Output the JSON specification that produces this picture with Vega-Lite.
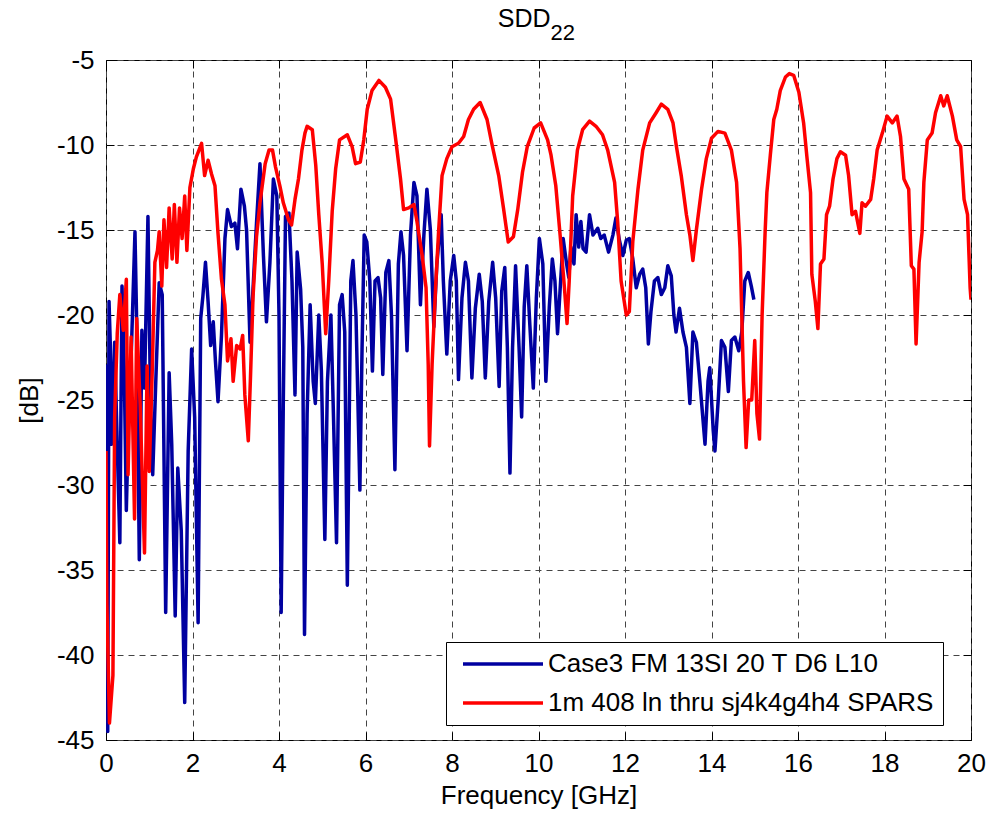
{
  "$schema": "https://vega.github.io/schema/vega-lite/v6.json",
  "width": 865,
  "height": 680,
  "autosize": {"type": "none"},
  "padding": {"left": 106, "top": 60, "right": 27, "bottom": 76},
  "background": "white",
  "config": {
    "view": {"stroke": "black", "strokeWidth": 1},
    "font": "Liberation Sans",
    "axis": {
      "labelFont": "Liberation Sans",
      "titleFont": "Liberation Sans",
      "labelFontSize": 26,
      "titleFontSize": 26,
      "titleFontWeight": "normal",
      "labelColor": "black",
      "titleColor": "black",
      "domainColor": "black",
      "tickColor": "black",
      "domain": false
    }
  },
  "data": {
    "values": [
      {"s": "Case3 FM 13SI 20 T D6 L10", "f": 0, "v": -27.6},
      {"s": "Case3 FM 13SI 20 T D6 L10", "f": 0.01, "v": -23},
      {"s": "Case3 FM 13SI 20 T D6 L10", "f": 0.04, "v": -44.5},
      {"s": "Case3 FM 13SI 20 T D6 L10", "f": 0.07, "v": -19.2},
      {"s": "Case3 FM 13SI 20 T D6 L10", "f": 0.1, "v": -21.8},
      {"s": "Case3 FM 13SI 20 T D6 L10", "f": 0.13, "v": -27.6},
      {"s": "Case3 FM 13SI 20 T D6 L10", "f": 0.2, "v": -21.6},
      {"s": "Case3 FM 13SI 20 T D6 L10", "f": 0.24, "v": -25.7},
      {"s": "Case3 FM 13SI 20 T D6 L10", "f": 0.32, "v": -33.4},
      {"s": "Case3 FM 13SI 20 T D6 L10", "f": 0.37, "v": -18.3},
      {"s": "Case3 FM 13SI 20 T D6 L10", "f": 0.42, "v": -23},
      {"s": "Case3 FM 13SI 20 T D6 L10", "f": 0.47, "v": -31.5},
      {"s": "Case3 FM 13SI 20 T D6 L10", "f": 0.53, "v": -25.3},
      {"s": "Case3 FM 13SI 20 T D6 L10", "f": 0.59, "v": -21.8},
      {"s": "Case3 FM 13SI 20 T D6 L10", "f": 0.67, "v": -15.1},
      {"s": "Case3 FM 13SI 20 T D6 L10", "f": 0.71, "v": -20.6},
      {"s": "Case3 FM 13SI 20 T D6 L10", "f": 0.77, "v": -34.4},
      {"s": "Case3 FM 13SI 20 T D6 L10", "f": 0.83, "v": -20.9},
      {"s": "Case3 FM 13SI 20 T D6 L10", "f": 0.89, "v": -24.3},
      {"s": "Case3 FM 13SI 20 T D6 L10", "f": 0.97, "v": -14.2},
      {"s": "Case3 FM 13SI 20 T D6 L10", "f": 1.03, "v": -25.3},
      {"s": "Case3 FM 13SI 20 T D6 L10", "f": 1.08, "v": -29.4},
      {"s": "Case3 FM 13SI 20 T D6 L10", "f": 1.15, "v": -24},
      {"s": "Case3 FM 13SI 20 T D6 L10", "f": 1.23, "v": -18.1},
      {"s": "Case3 FM 13SI 20 T D6 L10", "f": 1.3, "v": -18.8},
      {"s": "Case3 FM 13SI 20 T D6 L10", "f": 1.38, "v": -37.5},
      {"s": "Case3 FM 13SI 20 T D6 L10", "f": 1.46, "v": -23.4},
      {"s": "Case3 FM 13SI 20 T D6 L10", "f": 1.52, "v": -27.6},
      {"s": "Case3 FM 13SI 20 T D6 L10", "f": 1.6, "v": -37.7},
      {"s": "Case3 FM 13SI 20 T D6 L10", "f": 1.66, "v": -29},
      {"s": "Case3 FM 13SI 20 T D6 L10", "f": 1.74, "v": -32.7},
      {"s": "Case3 FM 13SI 20 T D6 L10", "f": 1.82, "v": -42.8},
      {"s": "Case3 FM 13SI 20 T D6 L10", "f": 1.9, "v": -28},
      {"s": "Case3 FM 13SI 20 T D6 L10", "f": 1.98, "v": -22},
      {"s": "Case3 FM 13SI 20 T D6 L10", "f": 2.05, "v": -26},
      {"s": "Case3 FM 13SI 20 T D6 L10", "f": 2.13, "v": -38.1},
      {"s": "Case3 FM 13SI 20 T D6 L10", "f": 2.19, "v": -20.2},
      {"s": "Case3 FM 13SI 20 T D6 L10", "f": 2.24, "v": -18.9},
      {"s": "Case3 FM 13SI 20 T D6 L10", "f": 2.3, "v": -16.9},
      {"s": "Case3 FM 13SI 20 T D6 L10", "f": 2.36, "v": -19.2},
      {"s": "Case3 FM 13SI 20 T D6 L10", "f": 2.42, "v": -21.8},
      {"s": "Case3 FM 13SI 20 T D6 L10", "f": 2.48, "v": -20.4},
      {"s": "Case3 FM 13SI 20 T D6 L10", "f": 2.53, "v": -22.7},
      {"s": "Case3 FM 13SI 20 T D6 L10", "f": 2.59, "v": -25.1},
      {"s": "Case3 FM 13SI 20 T D6 L10", "f": 2.67, "v": -21.2},
      {"s": "Case3 FM 13SI 20 T D6 L10", "f": 2.75, "v": -15.5},
      {"s": "Case3 FM 13SI 20 T D6 L10", "f": 2.81, "v": -13.8},
      {"s": "Case3 FM 13SI 20 T D6 L10", "f": 2.9, "v": -14.8},
      {"s": "Case3 FM 13SI 20 T D6 L10", "f": 2.98, "v": -14.6},
      {"s": "Case3 FM 13SI 20 T D6 L10", "f": 3.04, "v": -16.1},
      {"s": "Case3 FM 13SI 20 T D6 L10", "f": 3.12, "v": -12.6},
      {"s": "Case3 FM 13SI 20 T D6 L10", "f": 3.2, "v": -13.6},
      {"s": "Case3 FM 13SI 20 T D6 L10", "f": 3.25, "v": -15},
      {"s": "Case3 FM 13SI 20 T D6 L10", "f": 3.33, "v": -21.6},
      {"s": "Case3 FM 13SI 20 T D6 L10", "f": 3.39, "v": -18.9},
      {"s": "Case3 FM 13SI 20 T D6 L10", "f": 3.48, "v": -14.6},
      {"s": "Case3 FM 13SI 20 T D6 L10", "f": 3.56, "v": -11.1},
      {"s": "Case3 FM 13SI 20 T D6 L10", "f": 3.64, "v": -16.5},
      {"s": "Case3 FM 13SI 20 T D6 L10", "f": 3.71, "v": -20.4},
      {"s": "Case3 FM 13SI 20 T D6 L10", "f": 3.79, "v": -16.9},
      {"s": "Case3 FM 13SI 20 T D6 L10", "f": 3.87, "v": -12},
      {"s": "Case3 FM 13SI 20 T D6 L10", "f": 3.95, "v": -13},
      {"s": "Case3 FM 13SI 20 T D6 L10", "f": 4.0, "v": -20},
      {"s": "Case3 FM 13SI 20 T D6 L10", "f": 4.05, "v": -37.5},
      {"s": "Case3 FM 13SI 20 T D6 L10", "f": 4.1, "v": -25},
      {"s": "Case3 FM 13SI 20 T D6 L10", "f": 4.15, "v": -14.2},
      {"s": "Case3 FM 13SI 20 T D6 L10", "f": 4.23, "v": -14},
      {"s": "Case3 FM 13SI 20 T D6 L10", "f": 4.3, "v": -18},
      {"s": "Case3 FM 13SI 20 T D6 L10", "f": 4.37, "v": -24.7},
      {"s": "Case3 FM 13SI 20 T D6 L10", "f": 4.42, "v": -16.3},
      {"s": "Case3 FM 13SI 20 T D6 L10", "f": 4.5, "v": -18.5},
      {"s": "Case3 FM 13SI 20 T D6 L10", "f": 4.55, "v": -21.9},
      {"s": "Case3 FM 13SI 20 T D6 L10", "f": 4.59, "v": -38.8},
      {"s": "Case3 FM 13SI 20 T D6 L10", "f": 4.65, "v": -25.8},
      {"s": "Case3 FM 13SI 20 T D6 L10", "f": 4.72, "v": -19.4},
      {"s": "Case3 FM 13SI 20 T D6 L10", "f": 4.79, "v": -23.9},
      {"s": "Case3 FM 13SI 20 T D6 L10", "f": 4.84, "v": -25.2},
      {"s": "Case3 FM 13SI 20 T D6 L10", "f": 4.92, "v": -20},
      {"s": "Case3 FM 13SI 20 T D6 L10", "f": 4.98, "v": -23.3},
      {"s": "Case3 FM 13SI 20 T D6 L10", "f": 5.06, "v": -33.2},
      {"s": "Case3 FM 13SI 20 T D6 L10", "f": 5.12, "v": -23.9},
      {"s": "Case3 FM 13SI 20 T D6 L10", "f": 5.2, "v": -20},
      {"s": "Case3 FM 13SI 20 T D6 L10", "f": 5.26, "v": -26},
      {"s": "Case3 FM 13SI 20 T D6 L10", "f": 5.33, "v": -33.4},
      {"s": "Case3 FM 13SI 20 T D6 L10", "f": 5.4, "v": -19.4},
      {"s": "Case3 FM 13SI 20 T D6 L10", "f": 5.46, "v": -18.8},
      {"s": "Case3 FM 13SI 20 T D6 L10", "f": 5.52, "v": -21},
      {"s": "Case3 FM 13SI 20 T D6 L10", "f": 5.58, "v": -35.9},
      {"s": "Case3 FM 13SI 20 T D6 L10", "f": 5.66, "v": -18},
      {"s": "Case3 FM 13SI 20 T D6 L10", "f": 5.71, "v": -16.8},
      {"s": "Case3 FM 13SI 20 T D6 L10", "f": 5.78, "v": -20},
      {"s": "Case3 FM 13SI 20 T D6 L10", "f": 5.87, "v": -30.3},
      {"s": "Case3 FM 13SI 20 T D6 L10", "f": 5.92, "v": -22},
      {"s": "Case3 FM 13SI 20 T D6 L10", "f": 5.97, "v": -15.3},
      {"s": "Case3 FM 13SI 20 T D6 L10", "f": 6.03, "v": -15.7},
      {"s": "Case3 FM 13SI 20 T D6 L10", "f": 6.1, "v": -18},
      {"s": "Case3 FM 13SI 20 T D6 L10", "f": 6.16, "v": -23.3},
      {"s": "Case3 FM 13SI 20 T D6 L10", "f": 6.22, "v": -18},
      {"s": "Case3 FM 13SI 20 T D6 L10", "f": 6.29, "v": -17.8},
      {"s": "Case3 FM 13SI 20 T D6 L10", "f": 6.35, "v": -19},
      {"s": "Case3 FM 13SI 20 T D6 L10", "f": 6.4, "v": -23.5},
      {"s": "Case3 FM 13SI 20 T D6 L10", "f": 6.47, "v": -17.5},
      {"s": "Case3 FM 13SI 20 T D6 L10", "f": 6.54, "v": -16.8},
      {"s": "Case3 FM 13SI 20 T D6 L10", "f": 6.6, "v": -20},
      {"s": "Case3 FM 13SI 20 T D6 L10", "f": 6.68, "v": -29.1},
      {"s": "Case3 FM 13SI 20 T D6 L10", "f": 6.76, "v": -17},
      {"s": "Case3 FM 13SI 20 T D6 L10", "f": 6.82, "v": -15.1},
      {"s": "Case3 FM 13SI 20 T D6 L10", "f": 6.88, "v": -16.5},
      {"s": "Case3 FM 13SI 20 T D6 L10", "f": 6.96, "v": -22.1},
      {"s": "Case3 FM 13SI 20 T D6 L10", "f": 7.04, "v": -15.3},
      {"s": "Case3 FM 13SI 20 T D6 L10", "f": 7.12, "v": -12.2},
      {"s": "Case3 FM 13SI 20 T D6 L10", "f": 7.19, "v": -13},
      {"s": "Case3 FM 13SI 20 T D6 L10", "f": 7.27, "v": -19.4},
      {"s": "Case3 FM 13SI 20 T D6 L10", "f": 7.35, "v": -15.3},
      {"s": "Case3 FM 13SI 20 T D6 L10", "f": 7.42, "v": -12.6},
      {"s": "Case3 FM 13SI 20 T D6 L10", "f": 7.5, "v": -15},
      {"s": "Case3 FM 13SI 20 T D6 L10", "f": 7.58, "v": -20.7},
      {"s": "Case3 FM 13SI 20 T D6 L10", "f": 7.65, "v": -17},
      {"s": "Case3 FM 13SI 20 T D6 L10", "f": 7.75, "v": -14.1},
      {"s": "Case3 FM 13SI 20 T D6 L10", "f": 7.8, "v": -18},
      {"s": "Case3 FM 13SI 20 T D6 L10", "f": 7.88, "v": -22.3},
      {"s": "Case3 FM 13SI 20 T D6 L10", "f": 7.96, "v": -18},
      {"s": "Case3 FM 13SI 20 T D6 L10", "f": 8.04, "v": -16.5},
      {"s": "Case3 FM 13SI 20 T D6 L10", "f": 8.1, "v": -18},
      {"s": "Case3 FM 13SI 20 T D6 L10", "f": 8.15, "v": -23.8},
      {"s": "Case3 FM 13SI 20 T D6 L10", "f": 8.23, "v": -19},
      {"s": "Case3 FM 13SI 20 T D6 L10", "f": 8.31, "v": -16.9},
      {"s": "Case3 FM 13SI 20 T D6 L10", "f": 8.38, "v": -18},
      {"s": "Case3 FM 13SI 20 T D6 L10", "f": 8.46, "v": -23.7},
      {"s": "Case3 FM 13SI 20 T D6 L10", "f": 8.54, "v": -19.6},
      {"s": "Case3 FM 13SI 20 T D6 L10", "f": 8.63, "v": -17.6},
      {"s": "Case3 FM 13SI 20 T D6 L10", "f": 8.7, "v": -19.2},
      {"s": "Case3 FM 13SI 20 T D6 L10", "f": 8.77, "v": -23.7},
      {"s": "Case3 FM 13SI 20 T D6 L10", "f": 8.85, "v": -19.2},
      {"s": "Case3 FM 13SI 20 T D6 L10", "f": 8.94, "v": -16.9},
      {"s": "Case3 FM 13SI 20 T D6 L10", "f": 9.01, "v": -19},
      {"s": "Case3 FM 13SI 20 T D6 L10", "f": 9.09, "v": -24.2},
      {"s": "Case3 FM 13SI 20 T D6 L10", "f": 9.15, "v": -18.6},
      {"s": "Case3 FM 13SI 20 T D6 L10", "f": 9.22, "v": -17.2},
      {"s": "Case3 FM 13SI 20 T D6 L10", "f": 9.28, "v": -21.9},
      {"s": "Case3 FM 13SI 20 T D6 L10", "f": 9.34, "v": -29.3},
      {"s": "Case3 FM 13SI 20 T D6 L10", "f": 9.4, "v": -21.9},
      {"s": "Case3 FM 13SI 20 T D6 L10", "f": 9.47, "v": -17.1},
      {"s": "Case3 FM 13SI 20 T D6 L10", "f": 9.55, "v": -21.9},
      {"s": "Case3 FM 13SI 20 T D6 L10", "f": 9.61, "v": -26},
      {"s": "Case3 FM 13SI 20 T D6 L10", "f": 9.67, "v": -19.5},
      {"s": "Case3 FM 13SI 20 T D6 L10", "f": 9.73, "v": -17.1},
      {"s": "Case3 FM 13SI 20 T D6 L10", "f": 9.8, "v": -20.6},
      {"s": "Case3 FM 13SI 20 T D6 L10", "f": 9.88, "v": -24.3},
      {"s": "Case3 FM 13SI 20 T D6 L10", "f": 9.95, "v": -19},
      {"s": "Case3 FM 13SI 20 T D6 L10", "f": 10.02, "v": -15.5},
      {"s": "Case3 FM 13SI 20 T D6 L10", "f": 10.1, "v": -17},
      {"s": "Case3 FM 13SI 20 T D6 L10", "f": 10.17, "v": -23.9},
      {"s": "Case3 FM 13SI 20 T D6 L10", "f": 10.25, "v": -19.5},
      {"s": "Case3 FM 13SI 20 T D6 L10", "f": 10.32, "v": -16.7},
      {"s": "Case3 FM 13SI 20 T D6 L10", "f": 10.38, "v": -18},
      {"s": "Case3 FM 13SI 20 T D6 L10", "f": 10.44, "v": -21.1},
      {"s": "Case3 FM 13SI 20 T D6 L10", "f": 10.5, "v": -18.5},
      {"s": "Case3 FM 13SI 20 T D6 L10", "f": 10.57, "v": -15.5},
      {"s": "Case3 FM 13SI 20 T D6 L10", "f": 10.65, "v": -17},
      {"s": "Case3 FM 13SI 20 T D6 L10", "f": 10.7, "v": -17.8},
      {"s": "Case3 FM 13SI 20 T D6 L10", "f": 10.75, "v": -16},
      {"s": "Case3 FM 13SI 20 T D6 L10", "f": 10.82, "v": -17},
      {"s": "Case3 FM 13SI 20 T D6 L10", "f": 10.87, "v": -14.1},
      {"s": "Case3 FM 13SI 20 T D6 L10", "f": 10.93, "v": -16},
      {"s": "Case3 FM 13SI 20 T D6 L10", "f": 10.98, "v": -14.5},
      {"s": "Case3 FM 13SI 20 T D6 L10", "f": 11.03, "v": -16.1},
      {"s": "Case3 FM 13SI 20 T D6 L10", "f": 11.1, "v": -16.3},
      {"s": "Case3 FM 13SI 20 T D6 L10", "f": 11.18, "v": -14.1},
      {"s": "Case3 FM 13SI 20 T D6 L10", "f": 11.26, "v": -15.3},
      {"s": "Case3 FM 13SI 20 T D6 L10", "f": 11.37, "v": -14.9},
      {"s": "Case3 FM 13SI 20 T D6 L10", "f": 11.44, "v": -15.5},
      {"s": "Case3 FM 13SI 20 T D6 L10", "f": 11.52, "v": -15.3},
      {"s": "Case3 FM 13SI 20 T D6 L10", "f": 11.62, "v": -16.3},
      {"s": "Case3 FM 13SI 20 T D6 L10", "f": 11.72, "v": -15.3},
      {"s": "Case3 FM 13SI 20 T D6 L10", "f": 11.79, "v": -14.3},
      {"s": "Case3 FM 13SI 20 T D6 L10", "f": 11.87, "v": -15.6},
      {"s": "Case3 FM 13SI 20 T D6 L10", "f": 11.95, "v": -16.5},
      {"s": "Case3 FM 13SI 20 T D6 L10", "f": 12.03, "v": -15.6},
      {"s": "Case3 FM 13SI 20 T D6 L10", "f": 12.1, "v": -15.5},
      {"s": "Case3 FM 13SI 20 T D6 L10", "f": 12.18, "v": -16.7},
      {"s": "Case3 FM 13SI 20 T D6 L10", "f": 12.26, "v": -18.4},
      {"s": "Case3 FM 13SI 20 T D6 L10", "f": 12.34, "v": -17.6},
      {"s": "Case3 FM 13SI 20 T D6 L10", "f": 12.41, "v": -17.3},
      {"s": "Case3 FM 13SI 20 T D6 L10", "f": 12.48, "v": -18.4},
      {"s": "Case3 FM 13SI 20 T D6 L10", "f": 12.54, "v": -21.7},
      {"s": "Case3 FM 13SI 20 T D6 L10", "f": 12.6, "v": -19.8},
      {"s": "Case3 FM 13SI 20 T D6 L10", "f": 12.68, "v": -18},
      {"s": "Case3 FM 13SI 20 T D6 L10", "f": 12.76, "v": -17.8},
      {"s": "Case3 FM 13SI 20 T D6 L10", "f": 12.84, "v": -18.8},
      {"s": "Case3 FM 13SI 20 T D6 L10", "f": 12.92, "v": -18.4},
      {"s": "Case3 FM 13SI 20 T D6 L10", "f": 12.99, "v": -17.1},
      {"s": "Case3 FM 13SI 20 T D6 L10", "f": 13.07, "v": -17.7},
      {"s": "Case3 FM 13SI 20 T D6 L10", "f": 13.13, "v": -20},
      {"s": "Case3 FM 13SI 20 T D6 L10", "f": 13.18, "v": -21},
      {"s": "Case3 FM 13SI 20 T D6 L10", "f": 13.26, "v": -19.6},
      {"s": "Case3 FM 13SI 20 T D6 L10", "f": 13.34, "v": -21},
      {"s": "Case3 FM 13SI 20 T D6 L10", "f": 13.42, "v": -21.9},
      {"s": "Case3 FM 13SI 20 T D6 L10", "f": 13.5, "v": -25.2},
      {"s": "Case3 FM 13SI 20 T D6 L10", "f": 13.57, "v": -21},
      {"s": "Case3 FM 13SI 20 T D6 L10", "f": 13.65, "v": -21.6},
      {"s": "Case3 FM 13SI 20 T D6 L10", "f": 13.73, "v": -23.9},
      {"s": "Case3 FM 13SI 20 T D6 L10", "f": 13.85, "v": -27.6},
      {"s": "Case3 FM 13SI 20 T D6 L10", "f": 13.92, "v": -23.9},
      {"s": "Case3 FM 13SI 20 T D6 L10", "f": 13.96, "v": -23.1},
      {"s": "Case3 FM 13SI 20 T D6 L10", "f": 14.04, "v": -26.8},
      {"s": "Case3 FM 13SI 20 T D6 L10", "f": 14.08, "v": -28},
      {"s": "Case3 FM 13SI 20 T D6 L10", "f": 14.16, "v": -24.8},
      {"s": "Case3 FM 13SI 20 T D6 L10", "f": 14.23, "v": -21.5},
      {"s": "Case3 FM 13SI 20 T D6 L10", "f": 14.31, "v": -21.9},
      {"s": "Case3 FM 13SI 20 T D6 L10", "f": 14.39, "v": -24.5},
      {"s": "Case3 FM 13SI 20 T D6 L10", "f": 14.46, "v": -21.5},
      {"s": "Case3 FM 13SI 20 T D6 L10", "f": 14.54, "v": -21.3},
      {"s": "Case3 FM 13SI 20 T D6 L10", "f": 14.63, "v": -22.1},
      {"s": "Case3 FM 13SI 20 T D6 L10", "f": 14.7, "v": -21},
      {"s": "Case3 FM 13SI 20 T D6 L10", "f": 14.77, "v": -18},
      {"s": "Case3 FM 13SI 20 T D6 L10", "f": 14.85, "v": -17.5},
      {"s": "Case3 FM 13SI 20 T D6 L10", "f": 14.92, "v": -18.3},
      {"s": "Case3 FM 13SI 20 T D6 L10", "f": 14.98, "v": -19.1},
      {"s": "1m 408 ln thru sj4k4g4h4 SPARS", "f": 0, "v": -28},
      {"s": "1m 408 ln thru sj4k4g4h4 SPARS", "f": 0.02, "v": -37},
      {"s": "1m 408 ln thru sj4k4g4h4 SPARS", "f": 0.08, "v": -44},
      {"s": "1m 408 ln thru sj4k4g4h4 SPARS", "f": 0.16, "v": -41.2},
      {"s": "1m 408 ln thru sj4k4g4h4 SPARS", "f": 0.2, "v": -26},
      {"s": "1m 408 ln thru sj4k4g4h4 SPARS", "f": 0.26, "v": -21.1},
      {"s": "1m 408 ln thru sj4k4g4h4 SPARS", "f": 0.32, "v": -18.8},
      {"s": "1m 408 ln thru sj4k4g4h4 SPARS", "f": 0.4, "v": -20.9},
      {"s": "1m 408 ln thru sj4k4g4h4 SPARS", "f": 0.47, "v": -17.9},
      {"s": "1m 408 ln thru sj4k4g4h4 SPARS", "f": 0.51, "v": -29.4},
      {"s": "1m 408 ln thru sj4k4g4h4 SPARS", "f": 0.58, "v": -21.3},
      {"s": "1m 408 ln thru sj4k4g4h4 SPARS", "f": 0.66, "v": -32},
      {"s": "1m 408 ln thru sj4k4g4h4 SPARS", "f": 0.71, "v": -20.2},
      {"s": "1m 408 ln thru sj4k4g4h4 SPARS", "f": 0.79, "v": -25.3},
      {"s": "1m 408 ln thru sj4k4g4h4 SPARS", "f": 0.89, "v": -34},
      {"s": "1m 408 ln thru sj4k4g4h4 SPARS", "f": 0.95, "v": -23},
      {"s": "1m 408 ln thru sj4k4g4h4 SPARS", "f": 1.0, "v": -29.2},
      {"s": "1m 408 ln thru sj4k4g4h4 SPARS", "f": 1.07, "v": -23.2},
      {"s": "1m 408 ln thru sj4k4g4h4 SPARS", "f": 1.13, "v": -16.9},
      {"s": "1m 408 ln thru sj4k4g4h4 SPARS", "f": 1.19, "v": -16.2},
      {"s": "1m 408 ln thru sj4k4g4h4 SPARS", "f": 1.23, "v": -15.1},
      {"s": "1m 408 ln thru sj4k4g4h4 SPARS", "f": 1.29, "v": -18.3},
      {"s": "1m 408 ln thru sj4k4g4h4 SPARS", "f": 1.34, "v": -14.4},
      {"s": "1m 408 ln thru sj4k4g4h4 SPARS", "f": 1.4, "v": -17.2},
      {"s": "1m 408 ln thru sj4k4g4h4 SPARS", "f": 1.46, "v": -13.7},
      {"s": "1m 408 ln thru sj4k4g4h4 SPARS", "f": 1.53, "v": -16.7},
      {"s": "1m 408 ln thru sj4k4g4h4 SPARS", "f": 1.58, "v": -13.5},
      {"s": "1m 408 ln thru sj4k4g4h4 SPARS", "f": 1.64, "v": -16.9},
      {"s": "1m 408 ln thru sj4k4g4h4 SPARS", "f": 1.7, "v": -13.7},
      {"s": "1m 408 ln thru sj4k4g4h4 SPARS", "f": 1.76, "v": -15.5},
      {"s": "1m 408 ln thru sj4k4g4h4 SPARS", "f": 1.82, "v": -13},
      {"s": "1m 408 ln thru sj4k4g4h4 SPARS", "f": 1.87, "v": -16.2},
      {"s": "1m 408 ln thru sj4k4g4h4 SPARS", "f": 1.94, "v": -12.5},
      {"s": "1m 408 ln thru sj4k4g4h4 SPARS", "f": 2.02, "v": -11.4},
      {"s": "1m 408 ln thru sj4k4g4h4 SPARS", "f": 2.09, "v": -10.7},
      {"s": "1m 408 ln thru sj4k4g4h4 SPARS", "f": 2.15, "v": -10.3},
      {"s": "1m 408 ln thru sj4k4g4h4 SPARS", "f": 2.21, "v": -9.9},
      {"s": "1m 408 ln thru sj4k4g4h4 SPARS", "f": 2.28, "v": -11.8},
      {"s": "1m 408 ln thru sj4k4g4h4 SPARS", "f": 2.36, "v": -10.9},
      {"s": "1m 408 ln thru sj4k4g4h4 SPARS", "f": 2.44, "v": -11.7},
      {"s": "1m 408 ln thru sj4k4g4h4 SPARS", "f": 2.52, "v": -12.4},
      {"s": "1m 408 ln thru sj4k4g4h4 SPARS", "f": 2.59, "v": -15.2},
      {"s": "1m 408 ln thru sj4k4g4h4 SPARS", "f": 2.67, "v": -17.9},
      {"s": "1m 408 ln thru sj4k4g4h4 SPARS", "f": 2.75, "v": -19.4},
      {"s": "1m 408 ln thru sj4k4g4h4 SPARS", "f": 2.81, "v": -22.7},
      {"s": "1m 408 ln thru sj4k4g4h4 SPARS", "f": 2.89, "v": -21.4},
      {"s": "1m 408 ln thru sj4k4g4h4 SPARS", "f": 2.94, "v": -23.9},
      {"s": "1m 408 ln thru sj4k4g4h4 SPARS", "f": 3.02, "v": -21.8},
      {"s": "1m 408 ln thru sj4k4g4h4 SPARS", "f": 3.1, "v": -22},
      {"s": "1m 408 ln thru sj4k4g4h4 SPARS", "f": 3.16, "v": -21.2},
      {"s": "1m 408 ln thru sj4k4g4h4 SPARS", "f": 3.21, "v": -24.7},
      {"s": "1m 408 ln thru sj4k4g4h4 SPARS", "f": 3.29, "v": -27.4},
      {"s": "1m 408 ln thru sj4k4g4h4 SPARS", "f": 3.34, "v": -23.7},
      {"s": "1m 408 ln thru sj4k4g4h4 SPARS", "f": 3.4, "v": -18.9},
      {"s": "1m 408 ln thru sj4k4g4h4 SPARS", "f": 3.48, "v": -15.4},
      {"s": "1m 408 ln thru sj4k4g4h4 SPARS", "f": 3.56, "v": -13.4},
      {"s": "1m 408 ln thru sj4k4g4h4 SPARS", "f": 3.68, "v": -11.1},
      {"s": "1m 408 ln thru sj4k4g4h4 SPARS", "f": 3.77, "v": -10.3},
      {"s": "1m 408 ln thru sj4k4g4h4 SPARS", "f": 3.85, "v": -10.3},
      {"s": "1m 408 ln thru sj4k4g4h4 SPARS", "f": 3.92, "v": -11.3},
      {"s": "1m 408 ln thru sj4k4g4h4 SPARS", "f": 4.02, "v": -12.4},
      {"s": "1m 408 ln thru sj4k4g4h4 SPARS", "f": 4.1, "v": -13.4},
      {"s": "1m 408 ln thru sj4k4g4h4 SPARS", "f": 4.22, "v": -14.4},
      {"s": "1m 408 ln thru sj4k4g4h4 SPARS", "f": 4.29, "v": -14.7},
      {"s": "1m 408 ln thru sj4k4g4h4 SPARS", "f": 4.37, "v": -13.2},
      {"s": "1m 408 ln thru sj4k4g4h4 SPARS", "f": 4.45, "v": -12},
      {"s": "1m 408 ln thru sj4k4g4h4 SPARS", "f": 4.53, "v": -10.3},
      {"s": "1m 408 ln thru sj4k4g4h4 SPARS", "f": 4.6, "v": -9.3},
      {"s": "1m 408 ln thru sj4k4g4h4 SPARS", "f": 4.65, "v": -8.9},
      {"s": "1m 408 ln thru sj4k4g4h4 SPARS", "f": 4.77, "v": -9.1},
      {"s": "1m 408 ln thru sj4k4g4h4 SPARS", "f": 4.85, "v": -11.2},
      {"s": "1m 408 ln thru sj4k4g4h4 SPARS", "f": 4.92, "v": -14.1},
      {"s": "1m 408 ln thru sj4k4g4h4 SPARS", "f": 5.0, "v": -17},
      {"s": "1m 408 ln thru sj4k4g4h4 SPARS", "f": 5.08, "v": -21.1},
      {"s": "1m 408 ln thru sj4k4g4h4 SPARS", "f": 5.15, "v": -18},
      {"s": "1m 408 ln thru sj4k4g4h4 SPARS", "f": 5.23, "v": -13.9},
      {"s": "1m 408 ln thru sj4k4g4h4 SPARS", "f": 5.31, "v": -11.4},
      {"s": "1m 408 ln thru sj4k4g4h4 SPARS", "f": 5.4, "v": -9.7},
      {"s": "1m 408 ln thru sj4k4g4h4 SPARS", "f": 5.58, "v": -9.4},
      {"s": "1m 408 ln thru sj4k4g4h4 SPARS", "f": 5.69, "v": -10.1},
      {"s": "1m 408 ln thru sj4k4g4h4 SPARS", "f": 5.77, "v": -11.1},
      {"s": "1m 408 ln thru sj4k4g4h4 SPARS", "f": 5.88, "v": -11},
      {"s": "1m 408 ln thru sj4k4g4h4 SPARS", "f": 5.96, "v": -9.7},
      {"s": "1m 408 ln thru sj4k4g4h4 SPARS", "f": 6.04, "v": -7.9},
      {"s": "1m 408 ln thru sj4k4g4h4 SPARS", "f": 6.15, "v": -6.8},
      {"s": "1m 408 ln thru sj4k4g4h4 SPARS", "f": 6.31, "v": -6.2},
      {"s": "1m 408 ln thru sj4k4g4h4 SPARS", "f": 6.46, "v": -6.6},
      {"s": "1m 408 ln thru sj4k4g4h4 SPARS", "f": 6.58, "v": -7.3},
      {"s": "1m 408 ln thru sj4k4g4h4 SPARS", "f": 6.69, "v": -9.5},
      {"s": "1m 408 ln thru sj4k4g4h4 SPARS", "f": 6.81, "v": -12},
      {"s": "1m 408 ln thru sj4k4g4h4 SPARS", "f": 6.88, "v": -13.8},
      {"s": "1m 408 ln thru sj4k4g4h4 SPARS", "f": 7.0, "v": -13.7},
      {"s": "1m 408 ln thru sj4k4g4h4 SPARS", "f": 7.12, "v": -13.5},
      {"s": "1m 408 ln thru sj4k4g4h4 SPARS", "f": 7.19, "v": -14.5},
      {"s": "1m 408 ln thru sj4k4g4h4 SPARS", "f": 7.31, "v": -16.5},
      {"s": "1m 408 ln thru sj4k4g4h4 SPARS", "f": 7.4, "v": -18.4},
      {"s": "1m 408 ln thru sj4k4g4h4 SPARS", "f": 7.45, "v": -22.9},
      {"s": "1m 408 ln thru sj4k4g4h4 SPARS", "f": 7.48, "v": -27.7},
      {"s": "1m 408 ln thru sj4k4g4h4 SPARS", "f": 7.54, "v": -22.9},
      {"s": "1m 408 ln thru sj4k4g4h4 SPARS", "f": 7.62, "v": -18.4},
      {"s": "1m 408 ln thru sj4k4g4h4 SPARS", "f": 7.69, "v": -15.1},
      {"s": "1m 408 ln thru sj4k4g4h4 SPARS", "f": 7.77, "v": -11.8},
      {"s": "1m 408 ln thru sj4k4g4h4 SPARS", "f": 7.88, "v": -10.8},
      {"s": "1m 408 ln thru sj4k4g4h4 SPARS", "f": 8.0, "v": -10.1},
      {"s": "1m 408 ln thru sj4k4g4h4 SPARS", "f": 8.15, "v": -9.9},
      {"s": "1m 408 ln thru sj4k4g4h4 SPARS", "f": 8.27, "v": -9.5},
      {"s": "1m 408 ln thru sj4k4g4h4 SPARS", "f": 8.38, "v": -8.5},
      {"s": "1m 408 ln thru sj4k4g4h4 SPARS", "f": 8.5, "v": -7.9},
      {"s": "1m 408 ln thru sj4k4g4h4 SPARS", "f": 8.65, "v": -7.5},
      {"s": "1m 408 ln thru sj4k4g4h4 SPARS", "f": 8.81, "v": -8.5},
      {"s": "1m 408 ln thru sj4k4g4h4 SPARS", "f": 8.92, "v": -9.9},
      {"s": "1m 408 ln thru sj4k4g4h4 SPARS", "f": 9.08, "v": -11.8},
      {"s": "1m 408 ln thru sj4k4g4h4 SPARS", "f": 9.19, "v": -13.7},
      {"s": "1m 408 ln thru sj4k4g4h4 SPARS", "f": 9.3, "v": -15.7},
      {"s": "1m 408 ln thru sj4k4g4h4 SPARS", "f": 9.42, "v": -15.4},
      {"s": "1m 408 ln thru sj4k4g4h4 SPARS", "f": 9.52, "v": -13.8},
      {"s": "1m 408 ln thru sj4k4g4h4 SPARS", "f": 9.63, "v": -11.6},
      {"s": "1m 408 ln thru sj4k4g4h4 SPARS", "f": 9.74, "v": -10.1},
      {"s": "1m 408 ln thru sj4k4g4h4 SPARS", "f": 9.9, "v": -9},
      {"s": "1m 408 ln thru sj4k4g4h4 SPARS", "f": 10.05, "v": -8.7},
      {"s": "1m 408 ln thru sj4k4g4h4 SPARS", "f": 10.21, "v": -9.7},
      {"s": "1m 408 ln thru sj4k4g4h4 SPARS", "f": 10.29, "v": -10.6},
      {"s": "1m 408 ln thru sj4k4g4h4 SPARS", "f": 10.4, "v": -12.4},
      {"s": "1m 408 ln thru sj4k4g4h4 SPARS", "f": 10.5, "v": -15.3},
      {"s": "1m 408 ln thru sj4k4g4h4 SPARS", "f": 10.6, "v": -18.4},
      {"s": "1m 408 ln thru sj4k4g4h4 SPARS", "f": 10.66, "v": -20.5},
      {"s": "1m 408 ln thru sj4k4g4h4 SPARS", "f": 10.71, "v": -18},
      {"s": "1m 408 ln thru sj4k4g4h4 SPARS", "f": 10.79, "v": -13},
      {"s": "1m 408 ln thru sj4k4g4h4 SPARS", "f": 10.9, "v": -10.3},
      {"s": "1m 408 ln thru sj4k4g4h4 SPARS", "f": 11.02, "v": -9.1},
      {"s": "1m 408 ln thru sj4k4g4h4 SPARS", "f": 11.18, "v": -8.6},
      {"s": "1m 408 ln thru sj4k4g4h4 SPARS", "f": 11.33, "v": -8.9},
      {"s": "1m 408 ln thru sj4k4g4h4 SPARS", "f": 11.48, "v": -9.4},
      {"s": "1m 408 ln thru sj4k4g4h4 SPARS", "f": 11.6, "v": -10.3},
      {"s": "1m 408 ln thru sj4k4g4h4 SPARS", "f": 11.76, "v": -12.2},
      {"s": "1m 408 ln thru sj4k4g4h4 SPARS", "f": 11.83, "v": -14.5},
      {"s": "1m 408 ln thru sj4k4g4h4 SPARS", "f": 11.91, "v": -18},
      {"s": "1m 408 ln thru sj4k4g4h4 SPARS", "f": 12.03, "v": -20},
      {"s": "1m 408 ln thru sj4k4g4h4 SPARS", "f": 12.1, "v": -19.8},
      {"s": "1m 408 ln thru sj4k4g4h4 SPARS", "f": 12.18, "v": -15.7},
      {"s": "1m 408 ln thru sj4k4g4h4 SPARS", "f": 12.3, "v": -12.6},
      {"s": "1m 408 ln thru sj4k4g4h4 SPARS", "f": 12.41, "v": -10.3},
      {"s": "1m 408 ln thru sj4k4g4h4 SPARS", "f": 12.57, "v": -8.7},
      {"s": "1m 408 ln thru sj4k4g4h4 SPARS", "f": 12.72, "v": -8.1},
      {"s": "1m 408 ln thru sj4k4g4h4 SPARS", "f": 12.84, "v": -7.6},
      {"s": "1m 408 ln thru sj4k4g4h4 SPARS", "f": 12.99, "v": -7.9},
      {"s": "1m 408 ln thru sj4k4g4h4 SPARS", "f": 13.11, "v": -8.7},
      {"s": "1m 408 ln thru sj4k4g4h4 SPARS", "f": 13.19, "v": -10.1},
      {"s": "1m 408 ln thru sj4k4g4h4 SPARS", "f": 13.3, "v": -11.8},
      {"s": "1m 408 ln thru sj4k4g4h4 SPARS", "f": 13.42, "v": -14.1},
      {"s": "1m 408 ln thru sj4k4g4h4 SPARS", "f": 13.5, "v": -15.3},
      {"s": "1m 408 ln thru sj4k4g4h4 SPARS", "f": 13.57, "v": -16.8},
      {"s": "1m 408 ln thru sj4k4g4h4 SPARS", "f": 13.65, "v": -15},
      {"s": "1m 408 ln thru sj4k4g4h4 SPARS", "f": 13.77, "v": -12.6},
      {"s": "1m 408 ln thru sj4k4g4h4 SPARS", "f": 13.88, "v": -10.8},
      {"s": "1m 408 ln thru sj4k4g4h4 SPARS", "f": 14.0, "v": -9.6},
      {"s": "1m 408 ln thru sj4k4g4h4 SPARS", "f": 14.15, "v": -9.2},
      {"s": "1m 408 ln thru sj4k4g4h4 SPARS", "f": 14.31, "v": -9.3},
      {"s": "1m 408 ln thru sj4k4g4h4 SPARS", "f": 14.46, "v": -10.3},
      {"s": "1m 408 ln thru sj4k4g4h4 SPARS", "f": 14.58, "v": -12.2},
      {"s": "1m 408 ln thru sj4k4g4h4 SPARS", "f": 14.66, "v": -16.1},
      {"s": "1m 408 ln thru sj4k4g4h4 SPARS", "f": 14.74, "v": -23.9},
      {"s": "1m 408 ln thru sj4k4g4h4 SPARS", "f": 14.8, "v": -27.8},
      {"s": "1m 408 ln thru sj4k4g4h4 SPARS", "f": 14.86, "v": -25},
      {"s": "1m 408 ln thru sj4k4g4h4 SPARS", "f": 14.93, "v": -25},
      {"s": "1m 408 ln thru sj4k4g4h4 SPARS", "f": 15.0, "v": -21.5},
      {"s": "1m 408 ln thru sj4k4g4h4 SPARS", "f": 15.05, "v": -25.8},
      {"s": "1m 408 ln thru sj4k4g4h4 SPARS", "f": 15.11, "v": -27.3},
      {"s": "1m 408 ln thru sj4k4g4h4 SPARS", "f": 15.17, "v": -20},
      {"s": "1m 408 ln thru sj4k4g4h4 SPARS", "f": 15.24, "v": -15.1},
      {"s": "1m 408 ln thru sj4k4g4h4 SPARS", "f": 15.28, "v": -12.8},
      {"s": "1m 408 ln thru sj4k4g4h4 SPARS", "f": 15.36, "v": -10.6},
      {"s": "1m 408 ln thru sj4k4g4h4 SPARS", "f": 15.44, "v": -8.5},
      {"s": "1m 408 ln thru sj4k4g4h4 SPARS", "f": 15.51, "v": -7.9},
      {"s": "1m 408 ln thru sj4k4g4h4 SPARS", "f": 15.59, "v": -6.8},
      {"s": "1m 408 ln thru sj4k4g4h4 SPARS", "f": 15.71, "v": -6},
      {"s": "1m 408 ln thru sj4k4g4h4 SPARS", "f": 15.8, "v": -5.8},
      {"s": "1m 408 ln thru sj4k4g4h4 SPARS", "f": 15.9, "v": -5.9},
      {"s": "1m 408 ln thru sj4k4g4h4 SPARS", "f": 16.02, "v": -6.9},
      {"s": "1m 408 ln thru sj4k4g4h4 SPARS", "f": 16.13, "v": -8.7},
      {"s": "1m 408 ln thru sj4k4g4h4 SPARS", "f": 16.21, "v": -10.8},
      {"s": "1m 408 ln thru sj4k4g4h4 SPARS", "f": 16.29, "v": -12.8},
      {"s": "1m 408 ln thru sj4k4g4h4 SPARS", "f": 16.32, "v": -17.6},
      {"s": "1m 408 ln thru sj4k4g4h4 SPARS", "f": 16.4, "v": -19.2},
      {"s": "1m 408 ln thru sj4k4g4h4 SPARS", "f": 16.46, "v": -20.8},
      {"s": "1m 408 ln thru sj4k4g4h4 SPARS", "f": 16.52, "v": -17},
      {"s": "1m 408 ln thru sj4k4g4h4 SPARS", "f": 16.6, "v": -16.7},
      {"s": "1m 408 ln thru sj4k4g4h4 SPARS", "f": 16.66, "v": -14.1},
      {"s": "1m 408 ln thru sj4k4g4h4 SPARS", "f": 16.73, "v": -13.6},
      {"s": "1m 408 ln thru sj4k4g4h4 SPARS", "f": 16.81, "v": -12},
      {"s": "1m 408 ln thru sj4k4g4h4 SPARS", "f": 16.9, "v": -10.8},
      {"s": "1m 408 ln thru sj4k4g4h4 SPARS", "f": 16.98, "v": -10.4},
      {"s": "1m 408 ln thru sj4k4g4h4 SPARS", "f": 17.1, "v": -10.6},
      {"s": "1m 408 ln thru sj4k4g4h4 SPARS", "f": 17.17, "v": -11.8},
      {"s": "1m 408 ln thru sj4k4g4h4 SPARS", "f": 17.25, "v": -14.1},
      {"s": "1m 408 ln thru sj4k4g4h4 SPARS", "f": 17.33, "v": -13.9},
      {"s": "1m 408 ln thru sj4k4g4h4 SPARS", "f": 17.43, "v": -15.2},
      {"s": "1m 408 ln thru sj4k4g4h4 SPARS", "f": 17.48, "v": -13.4},
      {"s": "1m 408 ln thru sj4k4g4h4 SPARS", "f": 17.56, "v": -13.6},
      {"s": "1m 408 ln thru sj4k4g4h4 SPARS", "f": 17.68, "v": -13.2},
      {"s": "1m 408 ln thru sj4k4g4h4 SPARS", "f": 17.75, "v": -12},
      {"s": "1m 408 ln thru sj4k4g4h4 SPARS", "f": 17.83, "v": -10.3},
      {"s": "1m 408 ln thru sj4k4g4h4 SPARS", "f": 17.95, "v": -9.3},
      {"s": "1m 408 ln thru sj4k4g4h4 SPARS", "f": 18.06, "v": -8.3},
      {"s": "1m 408 ln thru sj4k4g4h4 SPARS", "f": 18.18, "v": -8.7},
      {"s": "1m 408 ln thru sj4k4g4h4 SPARS", "f": 18.29, "v": -8.3},
      {"s": "1m 408 ln thru sj4k4g4h4 SPARS", "f": 18.37, "v": -9.5},
      {"s": "1m 408 ln thru sj4k4g4h4 SPARS", "f": 18.45, "v": -12},
      {"s": "1m 408 ln thru sj4k4g4h4 SPARS", "f": 18.56, "v": -12.6},
      {"s": "1m 408 ln thru sj4k4g4h4 SPARS", "f": 18.62, "v": -17.1},
      {"s": "1m 408 ln thru sj4k4g4h4 SPARS", "f": 18.68, "v": -17.3},
      {"s": "1m 408 ln thru sj4k4g4h4 SPARS", "f": 18.73, "v": -21.7},
      {"s": "1m 408 ln thru sj4k4g4h4 SPARS", "f": 18.8, "v": -16.9},
      {"s": "1m 408 ln thru sj4k4g4h4 SPARS", "f": 18.87, "v": -15.1},
      {"s": "1m 408 ln thru sj4k4g4h4 SPARS", "f": 18.91, "v": -12.2},
      {"s": "1m 408 ln thru sj4k4g4h4 SPARS", "f": 18.99, "v": -9.7},
      {"s": "1m 408 ln thru sj4k4g4h4 SPARS", "f": 19.1, "v": -9.3},
      {"s": "1m 408 ln thru sj4k4g4h4 SPARS", "f": 19.18, "v": -8.1},
      {"s": "1m 408 ln thru sj4k4g4h4 SPARS", "f": 19.3, "v": -7.1},
      {"s": "1m 408 ln thru sj4k4g4h4 SPARS", "f": 19.37, "v": -7.7},
      {"s": "1m 408 ln thru sj4k4g4h4 SPARS", "f": 19.45, "v": -7.1},
      {"s": "1m 408 ln thru sj4k4g4h4 SPARS", "f": 19.57, "v": -8.3},
      {"s": "1m 408 ln thru sj4k4g4h4 SPARS", "f": 19.67, "v": -9.7},
      {"s": "1m 408 ln thru sj4k4g4h4 SPARS", "f": 19.76, "v": -10.1},
      {"s": "1m 408 ln thru sj4k4g4h4 SPARS", "f": 19.84, "v": -13.2},
      {"s": "1m 408 ln thru sj4k4g4h4 SPARS", "f": 19.92, "v": -14.1},
      {"s": "1m 408 ln thru sj4k4g4h4 SPARS", "f": 19.98, "v": -18.4},
      {"s": "1m 408 ln thru sj4k4g4h4 SPARS", "f": 20.0, "v": -19.1}
    ]
  },
  "layer": [
    {
      "mark": {"type": "line", "strokeWidth": 3.5, "strokeJoin": "round", "clip": true},
      "encoding": {
        "x": {
          "field": "f",
          "type": "quantitative",
          "scale": {"domain": [0, 20], "nice": false, "zero": false},
          "axis": {
            "orient": "bottom",
            "values": [0, 2, 4, 6, 8, 10, 12, 14, 16, 18, 20],
            "title": "Frequency [GHz]",
            "grid": true,
            "gridColor": "#444444",
            "gridDash": [6, 5],
            "ticks": true,
            "tickSize": -8,
            "labelPadding": 18,
            "titlePadding": 6,
            "labelFlush": false,
            "labelExpr": "'' + datum.value"
          }
        },
        "y": {
          "field": "v",
          "type": "quantitative",
          "scale": {"domain": [-45, -5], "nice": false, "zero": false},
          "axis": {
            "orient": "left",
            "values": [-45, -40, -35, -30, -25, -20, -15, -10, -5],
            "title": "[dB]",
            "grid": true,
            "gridColor": "#444444",
            "gridDash": [6, 5],
            "ticks": true,
            "tickSize": -8,
            "labelPadding": 20,
            "titlePadding": 14,
            "labelFlush": false,
            "labelExpr": "'' + datum.value"
          }
        },
        "color": {
          "field": "s",
          "type": "nominal",
          "sort": null,
          "scale": {
            "domain": ["Case3 FM 13SI 20 T D6 L10", "1m 408 ln thru sj4k4g4h4 SPARS"],
            "range": ["#0000a0", "#ff0000"]
          },
          "legend": {
            "orient": "none",
            "legendX": 340,
            "legendY": 582,
            "title": null,
            "symbolType": "M-4,0H4",
            "symbolSize": 400,
            "symbolStrokeWidth": 3.5,
            "symbolOffset": 35,
            "labelFontSize": 26,
            "labelFont": "Liberation Sans",
            "labelColor": "black",
            "labelLimit": 0,
            "labelOffset": 32,
            "strokeColor": "black",
            "fillColor": "white",
            "padding": 9,
            "rowPadding": 13
          }
        }
      }
    },
    {
      "mark": {"type": "point", "opacity": 0},
      "encoding": {
        "x": {
          "field": "f",
          "type": "quantitative",
          "axis": {
            "orient": "top",
            "values": [0, 2, 4, 6, 8, 10, 12, 14, 16, 18, 20],
            "labels": false,
            "title": null,
            "grid": false,
            "ticks": true,
            "tickSize": -8
          }
        },
        "y": {
          "field": "v",
          "type": "quantitative",
          "axis": {
            "orient": "right",
            "values": [-45, -40, -35, -30, -25, -20, -15, -10, -5],
            "labels": false,
            "title": null,
            "grid": false,
            "ticks": true,
            "tickSize": -8
          }
        }
      }
    },
    {
      "data": {"values": [{"t": "SDD"}]},
      "mark": {"type": "text", "align": "right", "baseline": "alphabetic", "fontSize": 25, "font": "Liberation Sans", "color": "black", "clip": false},
      "encoding": {
        "x": {"datum": 10.28, "type": "quantitative", "axis": null},
        "y": {"datum": -3.06, "type": "quantitative", "axis": null},
        "text": {"field": "t", "type": "nominal"}
      }
    },
    {
      "data": {"values": [{"t": "22"}]},
      "mark": {"type": "text", "align": "left", "baseline": "alphabetic", "fontSize": 22, "font": "Liberation Sans", "color": "black", "clip": false},
      "encoding": {
        "x": {"datum": 10.28, "type": "quantitative", "axis": null},
        "y": {"datum": -3.8, "type": "quantitative", "axis": null},
        "text": {"field": "t", "type": "nominal"}
      }
    }
  ],
  "resolve": {"axis": {"x": "independent", "y": "independent"}}
}
